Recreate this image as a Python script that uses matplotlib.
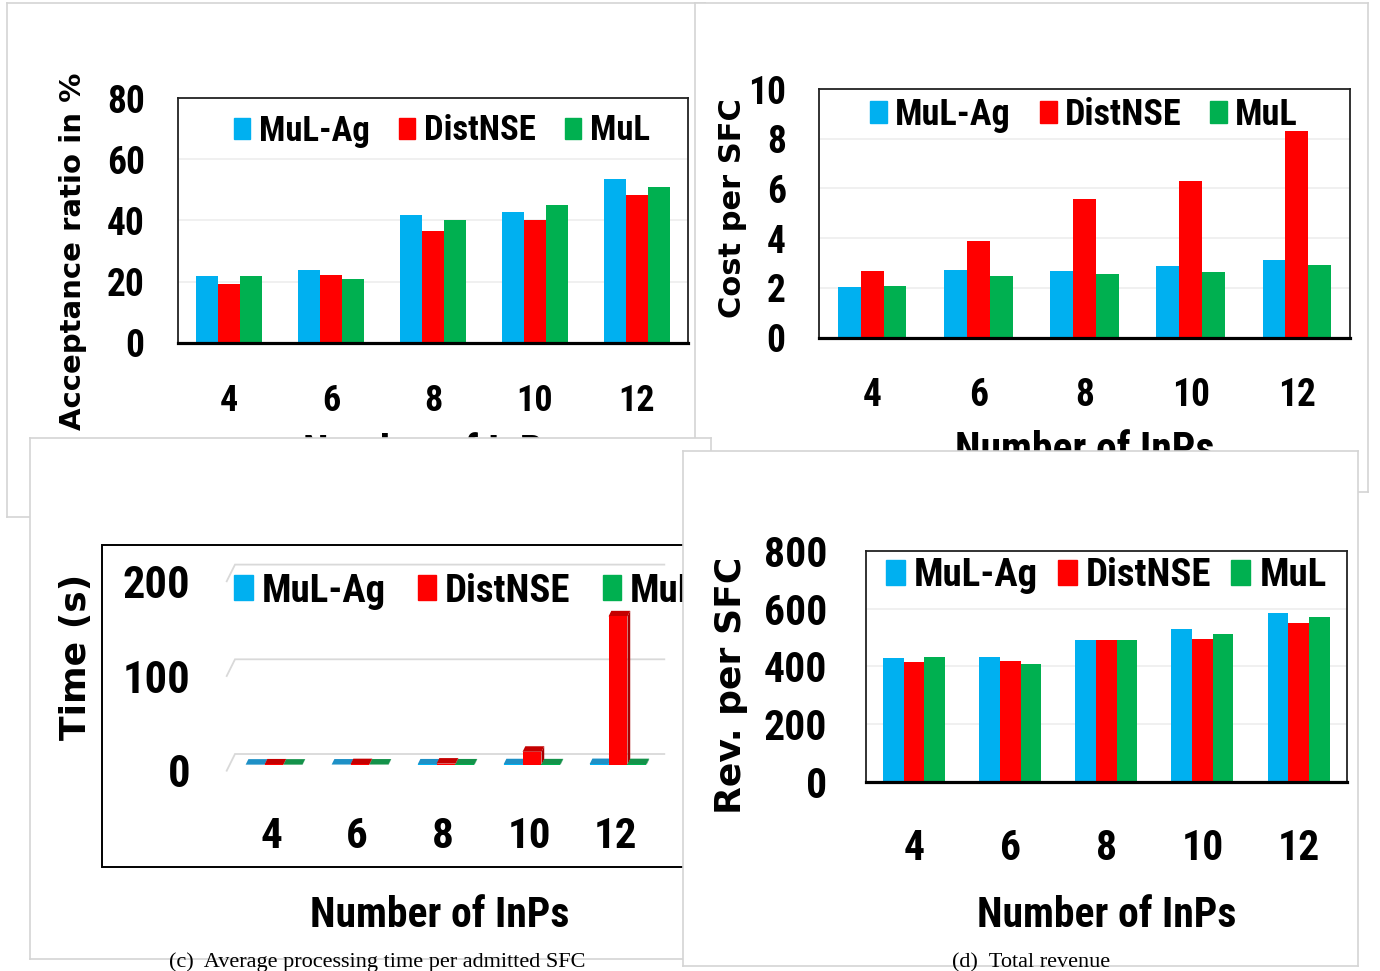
import numpy as np
import matplotlib
matplotlib.use("Agg")
import matplotlib.pyplot as plt
from matplotlib.patches import Rectangle

W, H = 1380, 971

inps = ["4", "6", "8", "10", "12"]
series = ["MuL-Ag", "DistNSE", "MuL"]
colors = ["#00B0F0", "#FF0000", "#00B050"]
top_colors = ["#1E90C6", "#C40000", "#14924A"]
side_colors = ["#1878A8", "#A80000", "#10783C"]

# (a) acceptance ratio in %
accept_mulag = [21.8, 23.8, 41.8, 42.8, 53.7]
accept_distnse = [19.2, 22.2, 36.4, 40.2, 48.3]
accept_mul = [21.8, 20.9, 40.0, 45.0, 50.9]

# (b) cost per SFC
cost_mulag = [2.05, 2.74, 2.68, 2.88, 3.12]
cost_distnse = [2.70, 3.87, 5.57, 6.31, 8.33]
cost_mul = [2.07, 2.50, 2.56, 2.66, 2.92]

# (c) processing time (s)
time_mulag = [0.4, 0.5, 0.6, 0.8, 1.0]
time_distnse = [0.6, 0.9, 1.5, 14, 157]
time_mul = [0.4, 0.5, 0.6, 0.7, 0.9]

# (d) revenue per SFC
rev_mulag = [428, 433, 491, 528, 583]
rev_distnse = [416, 419, 490, 496, 550]
rev_mul = [431, 409, 490, 512, 569]

COND = ["Liberation Sans Narrow", "Roboto Condensed", "DejaVu Sans"]
WIDE = ["DejaVu Sans"]
SERIF = ["Liberation Serif", "DejaVu Serif"]
BAR_W = 0.215

fig = plt.figure(figsize=(W / 100, H / 100), dpi=100)
fig.patch.set_facecolor("white")


def px_rect(x0, y0, x1, y1):
    return [x0 / W, 1 - y1 / H, (x1 - x0) / W, (y1 - y0) / H]


def fpt(x, y):
    return x / W, 1 - y / H


def panel(x0, y0, x1, y1, z):
    ax = fig.add_axes(px_rect(x0, y0, x1, y1), zorder=z)
    ax.set_facecolor("white")
    ax.set_xticks([])
    ax.set_yticks([])
    for s in ax.spines.values():
        s.set_color("#d4d4d4")
        s.set_linewidth(1.2)
    return ax


def bar_panel(box, z, vals, ymax, ystep, fs_y, fs_x, pad_y, pad_x):
    ax = fig.add_axes(px_rect(*box), zorder=z)
    ax.set_facecolor("none")
    x = np.arange(len(inps))
    for k, v in enumerate(vals):
        ax.bar(x + (k - 1) * BAR_W, v, BAR_W, color=colors[k], zorder=2)
    ax.set_xlim(-0.5, len(inps) - 0.5)
    ax.set_ylim(0, ymax)
    yt = np.arange(0, ymax + ystep / 2, ystep)
    ax.set_yticks(yt, [f"{t:g}" for t in yt], fontfamily=COND,
                  fontweight="bold", fontsize=fs_y)
    ax.set_xticks(x, inps, fontfamily=COND, fontweight="bold", fontsize=fs_x)
    ax.tick_params(length=0)
    ax.tick_params(axis="y", pad=pad_y)
    ax.tick_params(axis="x", pad=pad_x)
    ax.yaxis.grid(True, color="#ececec", lw=1.1)
    ax.set_axisbelow(True)
    for s in ("top", "left", "right"):
        ax.spines[s].set_linewidth(1.3)
        ax.spines[s].set_color("#222222")
    ax.spines["bottom"].set_linewidth(2.3)
    return ax


def add_legend(ax, x, y, fs, hl, hh, tp, cs):
    handles = [Rectangle((0, 0), 1, 1, color=c) for c in colors]
    ax.legend(handles, series, loc="center left", bbox_to_anchor=fpt(x, y),
              bbox_transform=fig.transFigure, ncol=3, frameon=False,
              borderpad=0, borderaxespad=0, handlelength=hl, handleheight=hh,
              handletextpad=tp, columnspacing=cs,
              prop=dict(family=COND, weight="bold", size=fs))


def labels(ax, ylab, yfs, ypos, xpos, xfs=30):
    ax.set_ylabel(ylab, fontfamily=WIDE, fontweight="bold", fontsize=yfs, va="center")
    ax.yaxis.set_label_coords(*fpt(*ypos), transform=fig.transFigure)
    ax.set_xlabel("Number of InPs", fontfamily=COND, fontweight="bold",
                  fontsize=xfs, va="baseline")
    ax.xaxis.set_label_coords(*fpt(*xpos), transform=fig.transFigure)


# ---------- (a) ----------
panel(7, 3, 705, 517, 0)
ax_a = bar_panel((178, 98.3, 688, 342.7), 1,
                 [accept_mulag, accept_distnse, accept_mul], 80, 20, 27, 26, 24, 29)
add_legend(ax_a, 234, 131, 25, 0.45, 0.55, 0.26, 0.85)
labels(ax_a, "Acceptance ratio in %", 21, (73.5, 251.5), (433, 465))

# ---------- (b) ----------
panel(695, 3, 1368, 492, 2)
ax_b = bar_panel((819, 89, 1350, 337.7), 3,
                 [cost_mulag, cost_distnse, cost_mul], 10, 2, 27, 27, 24, 28)
add_legend(ax_b, 870, 115, 26, 0.47, 0.55, 0.22, 0.8)
labels(ax_b, "Cost per SFC", 22, (732, 208.5), (1084.5, 462))

# ---------- (c) ----------
bg_c = panel(30, 437.5, 711, 959, 4)
bg_c.add_patch(Rectangle(fpt(102, 867), (720 - 102) / W, (867 - 545) / H,
                         transform=fig.transFigure, fill=False, ec="black",
                         lw=1.4, clip_on=False))
bg_c.text(*fpt(377, 967), "(c)  Average processing time per admitted SFC",
          transform=fig.transFigure, ha="center", va="baseline",
          fontfamily=SERIF, fontsize=16)

# pseudo-3D column chart: front plane mapping in pixels
C_X0, C_SX = 271.2, 86.0
C_Y0, C_SY = 770.7, 0.947
DX, DY = 8.3 / C_SX, 16.7 / C_SY
D0, D1 = 0.34, 0.67
CW = 0.22
cx0, cy0, cx1, cy1 = 200, 545, 690, 790
ax_c = fig.add_axes(px_rect(cx0, cy0, cx1, cy1), zorder=5)
ax_c.set_facecolor("none")
ax_c.set_xlim((cx0 - C_X0) / C_SX, (cx1 - C_X0) / C_SX)
ax_c.set_ylim((C_Y0 - cy1) / C_SY, (C_Y0 - cy0) / C_SY)
for s in ax_c.spines.values():
    s.set_visible(False)

gl = (226.7 - C_X0) / C_SX
gr = (664.3 - C_X0) / C_SX - DX
for v in (0, 100, 200):
    ax_c.plot([gl, gl + DX, gr + DX], [v, v + DY, v + DY], color="#d9d9d9",
              lw=1.3, zorder=1, solid_joinstyle="miter")

time_vals = [time_mulag, time_distnse, time_mul]
a0, b0, a1, b1 = D0 * DX, D0 * DY, D1 * DX, D1 * DY
for i in range(len(inps)):
    for k in range(3):
        v = time_vals[k][i]
        xl = i + (k - 1) * CW - CW / 2
        xr = xl + CW
        ax_c.fill([xr + a0, xr + a1, xr + a1, xr + a0], [b0, b1, v + b1, v + b0],
                  color=side_colors[k], lw=0, zorder=2)
        ax_c.fill([xl + a0, xr + a0, xr + a1, xl + a1], [v + b0, v + b0, v + b1, v + b1],
                  color=top_colors[k], lw=0, zorder=2)
        ax_c.fill([xl + a0, xr + a0, xr + a0, xl + a0], [b0, b0, v + b0, v + b0],
                  color=colors[k], lw=0, zorder=2)

ax_c.set_yticks([0, 100, 200], ["0", "100", "200"], fontfamily=COND,
                fontweight="bold", fontsize=32)
ax_c.set_xticks(np.arange(len(inps)), inps, fontfamily=COND,
                fontweight="bold", fontsize=31)
ax_c.tick_params(length=0)
ax_c.tick_params(axis="y", pad=7)
ax_c.tick_params(axis="x", pad=19)
add_legend(ax_c, 234, 591, 28, 0.48, 0.6, 0.23, 0.82)
labels(ax_c, "Time (s)", 26, (76, 656.5), (440, 927))

# ---------- (d) ----------
bg_d = panel(683, 450.5, 1357.5, 966, 6)
bg_d.text(*fpt(1031, 967), "(d)  Total revenue", transform=fig.transFigure,
          ha="center", va="baseline", fontfamily=SERIF, fontsize=16)
ax_d = bar_panel((866, 550.7, 1346.7, 782), 7,
                 [rev_mulag, rev_distnse, rev_mul], 800, 200, 30, 30, 28, 33)
add_legend(ax_d, 886, 576, 28, 0.49, 0.6, 0.23, 0.51)
labels(ax_d, "Rev. per SFC", 26, (731.5, 685), (1106.5, 927))

fig.savefig("out.png", dpi=100)
